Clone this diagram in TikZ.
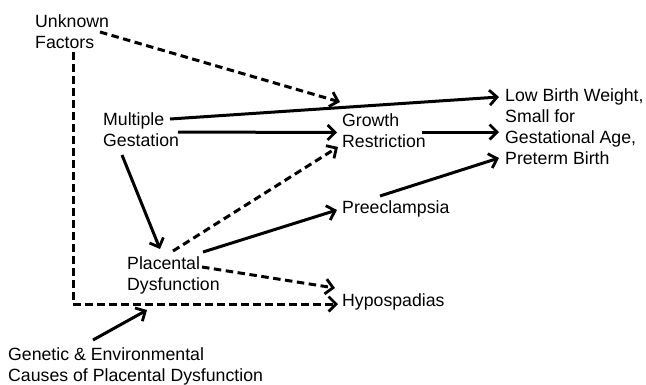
\documentclass[tikz,border=0pt]{standalone}
\usepackage{fontspec}
\setmainfont{Liberation Sans}
\usetikzlibrary{arrows.meta}
\begin{document}
\begin{tikzpicture}[x=1pt,y=-1pt,
  lbl/.style={anchor=north west,inner sep=0pt,align=left,font=\fontsize{17.7}{21}\selectfont},
  conn/.style={line width=3pt,-{Straight Barb[length=7.5pt,width=15pt,line width=2.8pt]}},
  dconn/.style={conn,dash pattern=on 7.5pt off 4.5pt}]
\useasboundingbox (0,0) rectangle (646,384);
\node[lbl] (uf)  at (35,14)    {Unknown\\Factors};
\node[lbl] (mg)  at (103,112.5) {Multiple\\Gestation};
\node[lbl] (gr)  at (342,113)  {Growth\\Restriction};
\node[lbl] (lbw) at (505,88.5) {Low Birth Weight,\\Small for\\Gestational Age,\\Preterm Birth};
\node[lbl] (pe)  at (342,200)  {Preeclampsia};
\node[lbl] (pd)  at (127,256)  {Placental\\Dysfunction};
\node[lbl] (hy)  at (342,293)  {Hypospadias};
\node[lbl] (ge)  at (8,347)    {Genetic \& Environmental\\Causes of Placental Dysfunction};
% connectors
\draw[dconn] ([shift={(65,18)}]uf.north west) -- ([shift={(-2,-11)}]gr.north west);
\draw[dconn] ([shift={(38,38)}]uf.north west) |- ([shift={(-4,11)}]hy.north west);
\draw[conn] ([shift={(67,6.5)}]mg.north west) -- ([shift={(-6,8.5)}]lbw.north west);
\draw[conn] ([shift={(75,19.5)}]mg.north west) -- ([shift={(-5,19.5)}]gr.north west);
\draw[conn] ([shift={(80,19)}]gr.north west) -- ([shift={(-6,43.5)}]lbw.north west);
\draw[conn] ([shift={(19,42.5)}]mg.north west) -- ([shift={(33,-7)}]pd.north west);
\draw[dconn] ([shift={(46,-5)}]pd.north west) -- ([shift={(-4,34)}]gr.north west);
\draw[conn] ([shift={(76,-4)}]pd.north west) -- ([shift={(-5,10)}]pe.north west);
\draw[conn] ([shift={(38,-4)}]pe.north west) -- ([shift={(-6,69.5)}]lbw.north west);
\draw[dconn] ([shift={(75,11)}]pd.north west) -- ([shift={(-7,-5)}]hy.north west);
\draw[conn] ([shift={(85,-7)}]ge.north west) -- ([shift={(139,-37)}]ge.north west);
\end{tikzpicture}
\end{document}
